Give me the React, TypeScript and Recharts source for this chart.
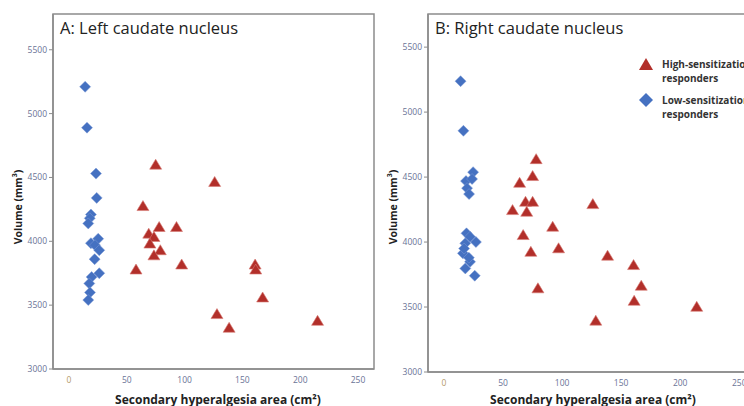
import React from 'react';
import { ScatterChart, Scatter, XAxis, YAxis, ReferenceArea, Legend } from 'recharts';

// Panel A: left caudate nucleus
const leftHighArea = [75, 126, 64, 78, 93, 69, 73.5, 70, 79, 73.5, 58, 97.5, 161, 161.5, 167.5, 128, 138.5, 215];
const leftHighVol = [4600, 4465, 4276, 4112, 4112, 4060, 4034, 3982, 3930, 3890, 3779, 3818, 3818, 3779, 3560, 3430, 3323, 3377];
const leftLowArea = [14, 15.6, 23.4, 24, 19, 18, 16.7, 19, 25.3, 22.5, 26.2, 22.2, 26.2, 19.6, 17.6, 18.2, 16.7];
const leftLowVol = [5210, 4890, 4530, 4340, 4210, 4180, 4140, 3985, 4020, 3970, 3930, 3860, 3750, 3720, 3670, 3600, 3540];

// Panel B: right caudate nucleus
const rightHighArea = [78, 75, 64, 69, 75, 58, 70, 126, 92, 67, 97, 73.5, 138.5, 160.5, 167, 79.5, 161, 214, 128.5];
const rightHighVol = [4638, 4508, 4456, 4310, 4310, 4246, 4233, 4292, 4118, 4054, 3952, 3925, 3895, 3823, 3664, 3644, 3548, 3502, 3395];
const rightLowArea = [14, 16.4, 24.6, 18.6, 23.7, 19.5, 21.2, 19, 27, 18, 16, 22, 18, 26, 21, 22, 17];
const rightLowVol = [5238, 4856, 4538, 4469, 4485, 4415, 4369, 4067, 4000, 3990, 3913, 3848, 3797, 3741, 3880, 4040, 3950];

const yTicks = [3000, 3500, 4000, 4500, 5000, 5500];
const xTicks = [0, 50, 100, 150, 200, 250];

const seriesNames = ['High-sensitization responders', 'Low-sensitization responders'];

const RED = '#b22f2a';
const BLUE = '#4571c1';
const FRAME = '#8c8c8c';
const TICK = '#6a7396';
const FONT = '"Open Sans", "Noto Sans", sans-serif';

const zip = (xs: number[], ys: number[]) => xs.map((x, i) => ({ x, y: ys[i] }));

const Triangle = (props: any) => {
  const { cx, cy } = props;
  if (cx == null || cy == null) return null;
  return (
    <polygon
      points={`${cx},${cy - 5.5} ${cx + 6},${cy + 4.5} ${cx - 6},${cy + 4.5}`}
      fill={RED}
      stroke="#d77a74"
      strokeWidth={0.6}
    />
  );
};

const Diamond = (props: any) => {
  const { cx, cy } = props;
  if (cx == null || cy == null) return null;
  return (
    <polygon
      points={`${cx},${cy - 5.5} ${cx + 5.5},${cy} ${cx},${cy + 5.5} ${cx - 5.5},${cy}`}
      fill={BLUE}
      stroke="#7d9bd6"
      strokeWidth={0.5}
    />
  );
};

const XTick = (props: any) => {
  const { x, y, payload } = props;
  return (
    <text
      x={x}
      y={y + 8}
      textAnchor="middle"
      fontFamily={FONT}
      fontSize={8.5}
      fill={payload.value === 0 ? '#b39a6a' : TICK}
    >
      {payload.value}
    </text>
  );
};

const YLabel = (props: any) => {
  const { viewBox, dx, cyOff } = props;
  const x = (viewBox?.x ?? 0) + dx;
  const y = (viewBox?.y ?? 0) + cyOff;
  return (
    <text
      x={x}
      y={y}
      transform={`rotate(-90, ${x}, ${y})`}
      textAnchor="middle"
      dominantBaseline="central"
      fontFamily={FONT}
      fontWeight="bold"
      fontSize={10.5}
      fill="#222"
    >
      Volume (mm<tspan fontSize={7} dy={-4}>3</tspan><tspan dy={4}>)</tspan>
    </text>
  );
};

const XLabel = (props: any) => {
  const { viewBox, cx, dy } = props;
  const x = cx;
  const y = (viewBox?.y ?? 0) + dy;
  return (
    <text
      x={x}
      y={y}
      textAnchor="middle"
      dominantBaseline="central"
      fontFamily={FONT}
      fontWeight="bold"
      fontSize={12}
      fill="#222"
    >
      Secondary hyperalgesia area (cm²)
    </text>
  );
};

const LegendContent = () => (
  <div style={{ fontFamily: FONT, fontWeight: 'bold', fontSize: 10, color: '#333', lineHeight: '14px' }}>
    <div style={{ display: 'flex', alignItems: 'flex-start', marginBottom: 8 }}>
      <svg width={20} height={14} style={{ marginRight: 6 }}>
        <polygon points="10,1 17,13 3,13" fill={RED} />
      </svg>
      <div style={{ whiteSpace: 'nowrap' }}>
        High-sensitization
        <br />
        responders
      </div>
    </div>
    <div style={{ display: 'flex', alignItems: 'flex-start' }}>
      <svg width={20} height={14} style={{ marginRight: 6 }}>
        <polygon points="10,0 17,7 10,14 3,7" fill={BLUE} />
      </svg>
      <div style={{ whiteSpace: 'nowrap' }}>
        Low-sensitization
        <br />
        responders
      </div>
    </div>
  </div>
);

type PanelProps = {
  high: { x: number; y: number }[];
  low: { x: number; y: number }[];
  width: number;
  yWidth: number;
  right: number;
  xHeight: number;
  xDomain: [number, number];
  yDomain: [number, number];
  yLabelX: number;
  yLabelY: number;
  xLabelCx: number;
  xLabelDy: number;
  showLegend: boolean;
};

const Panel = (p: PanelProps) => (
  <ScatterChart width={p.width} height={406} margin={{ top: 14, right: p.right, bottom: 0, left: 0 }}>
    <XAxis
      type="number"
      dataKey="x"
      domain={p.xDomain}
      ticks={xTicks}
      allowDataOverflow
      axisLine={{ stroke: FRAME, strokeWidth: 1.5 }}
      tickLine={false}
      tickSize={4}
      tickMargin={2}
      tick={<XTick />}
      height={p.xHeight}
      label={<XLabel cx={p.xLabelCx} dy={p.xLabelDy} />}
    />
    <YAxis
      type="number"
      dataKey="y"
      domain={p.yDomain}
      ticks={yTicks}
      allowDataOverflow
      width={p.yWidth}
      axisLine={{ stroke: FRAME, strokeWidth: 1.5 }}
      tickLine={{ stroke: FRAME }}
      tickSize={4}
      tickMargin={2}
      tick={{ fill: TICK, fontSize: 8.5, fontFamily: FONT }}
      label={<YLabel dx={p.yLabelX} cyOff={p.yLabelY} />}
    />
    <ReferenceArea
      x1={p.xDomain[0]}
      x2={p.xDomain[1]}
      y1={p.yDomain[0]}
      y2={p.yDomain[1]}
      fill="none"
      stroke={FRAME}
      strokeWidth={1.5}
      ifOverflow="visible"
    />
    <Scatter name={seriesNames[0]} data={p.high} shape={<Triangle />} isAnimationActive={false} />
    <Scatter name={seriesNames[1]} data={p.low} shape={<Diamond />} isAnimationActive={false} />
    {p.showLegend && (
      <Legend
        layout="vertical"
        align="center"
        verticalAlign="middle"
        content={<LegendContent />}
        wrapperStyle={{ position: 'absolute', top: 57, left: 266, width: 140 }}
      />
    )}
  </ScatterChart>
);

const Title = ({ text, left }: { text: string; left: number }) => (
  <div
    style={{
      position: 'absolute',
      left,
      top: 16,
      fontFamily: FONT,
      fontSize: 16.5,
      color: '#222',
      whiteSpace: 'nowrap',
      pointerEvents: 'none',
    }}
  >
    {text}
  </div>
);

export default function App() {
  return (
    <div
      style={{
        position: 'absolute',
        left: 0,
        top: 0,
        width: 744,
        height: 406,
        overflow: 'hidden',
        background: '#fff',
      }}
    >
      <div style={{ position: 'absolute', left: 0, top: 0 }}>
        <Panel
          high={zip(leftHighArea, leftHighVol)}
          low={zip(leftLowArea, leftLowVol)}
          width={380}
          yWidth={53}
          right={6}
          xHeight={37}
          xDomain={[-13.8, 263.8]}
          yDomain={[3000, 5780]}
          yLabelX={18}
          yLabelY={193}
          xLabelCx={218}
          xLabelDy={30}
          showLegend={false}
        />
      </div>
      <div style={{ position: 'absolute', left: 370, top: 0 }}>
        <Panel
          high={zip(rightHighArea, rightHighVol)}
          low={zip(rightLowArea, rightLowVol)}
          width={400}
          yWidth={58}
          right={14}
          xHeight={34}
          xDomain={[-13.6, 264.2]}
          yDomain={[3000, 5755]}
          yLabelX={23}
          yLabelY={193}
          xLabelCx={223}
          xLabelDy={27}
          showLegend={true}
        />
      </div>
      <Title text="A: Left caudate nucleus" left={60} />
      <Title text="B: Right caudate nucleus" left={435} />
    </div>
  );
}
